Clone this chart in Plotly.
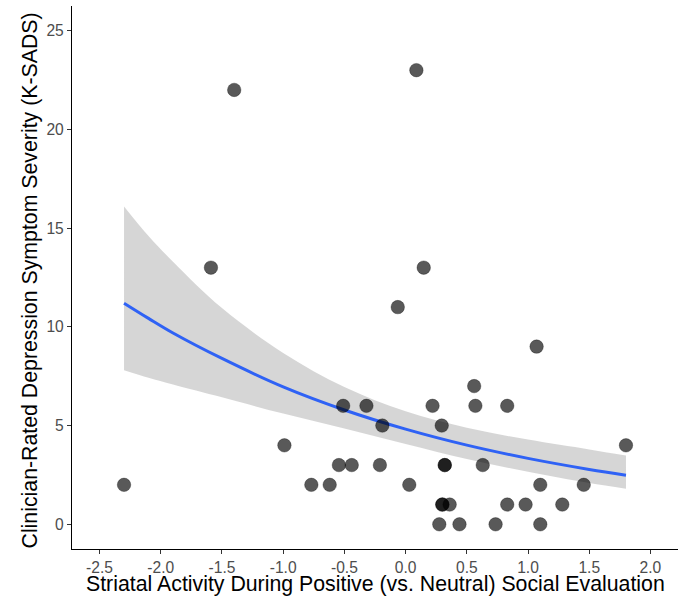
import plotly.graph_objects as go

# ---- data ----
striatal = [-2.30, -1.59, -1.40, -0.99, -0.77, -0.62, -0.545, -0.44, -0.51, -0.32,
            -0.21, -0.19, -0.064, 0.03, 0.088, 0.148, 0.22, 0.275, 0.295, 0.30,
            0.30, 0.36, 0.32, 0.32, 0.44, 0.56, 0.57, 0.63, 0.735, 0.83,
            0.83, 0.98, 1.07, 1.10, 1.10, 1.28, 1.455, 1.80]
severity = [2, 13, 22, 4, 2, 2, 3, 3, 6, 6,
            3, 5, 11, 2, 23, 13, 6, 0, 5, 1,
            1, 1, 3, 3, 0, 7, 6, 3, 0, 6,
            1, 1, 9, 2, 0, 1, 2, 4]

# fitted curve and confidence band
fit_x = [-2.30, -2.10, -1.90, -1.50, -1.00, -0.50, 0.00, 0.50, 1.00, 1.50, 1.80]
fit_y = [11.2, 10.43, 9.69, 8.40, 6.96, 5.79, 4.82, 4.01, 3.34, 2.78, 2.49]
band_hi = [16.1, 14.6, 13.3, 10.95, 8.68, 6.95, 5.72, 4.89, 4.29, 3.79, 3.48]
band_lo = [7.8, 7.42, 7.08, 6.43, 5.61, 4.85, 4.07, 3.31, 2.66, 2.09, 1.80]

x_ticks = [-2.5, -2.0, -1.5, -1.0, -0.5, 0.0, 0.5, 1.0, 1.5, 2.0]
x_tick_text = ["-2.5", "-2.0", "-1.5", "-1.0", "-0.5", "0.0", "0.5", "1.0", "1.5", "2.0"]
y_ticks = [0, 5, 10, 15, 20, 25]
y_tick_text = ["0", "5", "10", "15", "20", "25"]

x_title = "Striatal Activity During Positive (vs. Neutral) Social Evaluation"
y_title = "Clinician-Rated Depression Symptom Severity (K-SADS)"

FONT = "Liberation Sans, Arial, Helvetica, sans-serif"

fig = go.Figure()
fig.add_trace(go.Scatter(x=fit_x, y=band_lo, mode="lines", line=dict(width=0, shape="spline"),
                         hoverinfo="skip", showlegend=False))
fig.add_trace(go.Scatter(x=fit_x, y=band_hi, mode="lines", line=dict(width=0, shape="spline"),
                         fill="tonexty", fillcolor="rgba(153,153,153,0.4)",
                         hoverinfo="skip", showlegend=False))
fig.add_trace(go.Scatter(x=fit_x, y=fit_y, mode="lines",
                         line=dict(color="#2F62F5", width=3, shape="spline"),
                         showlegend=False))
fig.add_trace(go.Scatter(x=striatal, y=severity, mode="markers",
                         marker=dict(size=13.5, color="rgba(0,0,0,0.65)",
                                     line=dict(width=0.6, color="rgba(0,0,0,0.5)")),
                         showlegend=False))

axis_common = dict(showgrid=False, zeroline=False, showline=True, linecolor="black",
                   linewidth=1.2, ticks="outside", ticklen=4, tickwidth=1.1,
                   tickcolor="#333333", tickfont=dict(family=FONT, size=15.6, color="#4d4d4d"),
                   mirror=False)

fig.update_xaxes(range=[-2.725, 2.225], tickvals=x_ticks, ticktext=x_tick_text, **axis_common)
fig.update_yaxes(range=[-1.25, 26.25], tickvals=y_ticks, ticktext=y_tick_text, **axis_common)

fig.add_annotation(text=x_title, xref="paper", yref="paper", x=0.5, y=0,
                   yanchor="middle", xanchor="center", yshift=-35, showarrow=False,
                   font=dict(family=FONT, size=21.3, color="black"))
fig.add_annotation(text=y_title, xref="paper", yref="paper", x=0, y=0.5,
                   xanchor="center", yanchor="middle", xshift=-43, yshift=-3, textangle=-90,
                   showarrow=False,
                   font=dict(family=FONT, size=21.3, color="black"))

fig.update_layout(width=692, height=596, margin=dict(l=72, r=14, t=6, b=47),
                  plot_bgcolor="white", paper_bgcolor="white", showlegend=False)

fig.write_html("out.html", config={"displayModeBar": False},
               post_script="document.body.style.margin='0';document.body.style.padding='0';")
